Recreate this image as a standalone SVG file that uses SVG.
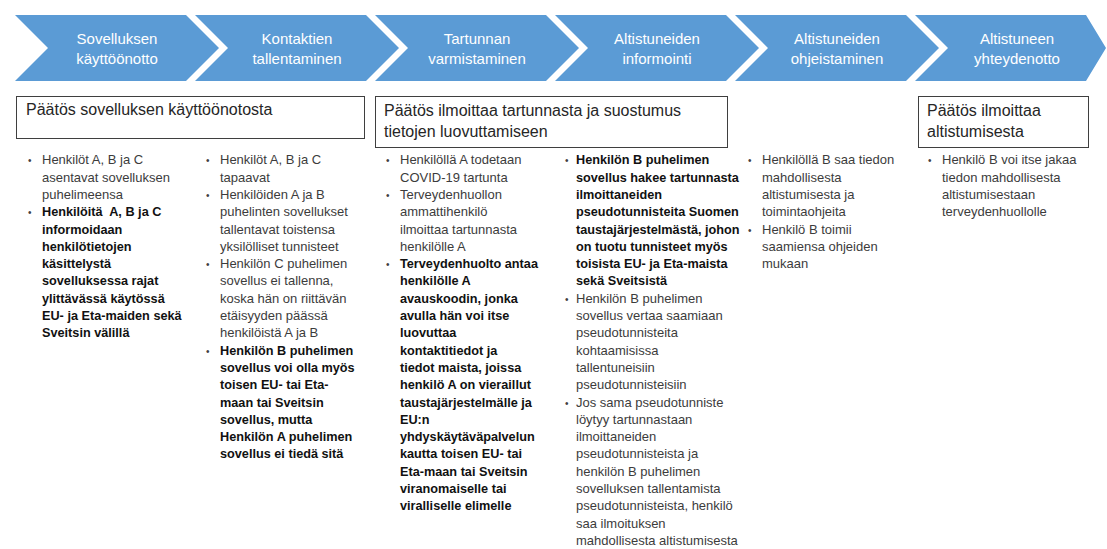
<svg xmlns="http://www.w3.org/2000/svg" width="1107" height="549" viewBox="0 0 1107 549">
<style>
.chev{fill:#5b9bd5}
.ct{font-family:"Liberation Sans",Arial,sans-serif;font-size:15px;fill:#ffffff;text-anchor:middle}
.box{fill:#ffffff;stroke:#3f3f3f;stroke-width:1}
.bt{font-family:"Liberation Sans",Arial,sans-serif;font-size:16px;fill:#262626}
.tx{font-family:"Liberation Sans",Arial,sans-serif;font-size:13px;fill:#3c3c3c}
.b{font-weight:bold;font-size:12.7px;fill:#111111}
.bul{font-family:"Liberation Sans",Arial,sans-serif;font-size:10px;fill:#404040}
</style>
<rect width="1107" height="549" fill="#ffffff"/>
<g id="chevron1"><path class="chev" d="M15,15 L186,15 L219,48 L186,81 L15,81 L48,48 Z"/><text class="ct" x="117" y="44">Sovelluksen</text><text class="ct" x="117" y="64">käyttöönotto</text></g>
<g id="chevron2"><path class="chev" d="M195,15 L366,15 L399,48 L366,81 L195,81 L228,48 Z"/><text class="ct" x="297" y="44">Kontaktien</text><text class="ct" x="297" y="64">tallentaminen</text></g>
<g id="chevron3"><path class="chev" d="M375,15 L546,15 L579,48 L546,81 L375,81 L408,48 Z"/><text class="ct" x="477" y="44">Tartunnan</text><text class="ct" x="477" y="64">varmistaminen</text></g>
<g id="chevron4"><path class="chev" d="M555,15 L726,15 L759,48 L726,81 L555,81 L588,48 Z"/><text class="ct" x="657" y="44">Altistuneiden</text><text class="ct" x="657" y="64">informointi</text></g>
<g id="chevron5"><path class="chev" d="M735,15 L906,15 L939,48 L906,81 L735,81 L768,48 Z"/><text class="ct" x="837" y="44">Altistuneiden</text><text class="ct" x="837" y="64">ohjeistaminen</text></g>
<g id="chevron6"><path class="chev" d="M915,15 L1086,15 L1106,48 L1086,81 L915,81 L948,48 Z"/><text class="ct" x="1017" y="44">Altistuneen</text><text class="ct" x="1017" y="64">yhteydenotto</text></g>

<g id="box1"><rect class="box" x="16.5" y="96.5" width="348" height="42"/><text class="bt" x="26" y="115">Päätös sovelluksen käyttöönotosta</text></g>
<g id="box2"><rect class="box" x="375.5" y="96.5" width="352" height="51"/><text class="bt" x="384" y="116">Päätös ilmoittaa tartunnasta ja suostumus</text><text class="bt" x="384" y="137">tietojen luovuttamiseen</text></g>
<g id="box3"><rect class="box" x="918.5" y="96.5" width="170" height="51"/><text class="bt" x="927" y="116">Päätös ilmoittaa</text><text class="bt" x="927" y="137">altistumisesta</text></g>

<g id="col1">
<text class="bul" x="28" y="164">•</text>
<text class="bul" x="28" y="216">•</text>
<text class="tx"><tspan x="42" y="164.3">Henkilöt A, B ja C</tspan><tspan x="42" y="181.6">asentavat sovelluksen</tspan><tspan x="42" y="198.9">puhelimeensa</tspan></text>
<text class="tx b" xml:space="preserve"><tspan x="42" y="216.2">Henkilöitä  A, B ja C</tspan><tspan x="42" y="233.5">informoidaan</tspan><tspan x="42" y="250.8">henkilötietojen</tspan><tspan x="42" y="268.1">käsittelystä</tspan><tspan x="42" y="285.4">sovelluksessa rajat</tspan><tspan x="42" y="302.7">ylittävässä käytössä</tspan><tspan x="42" y="320">EU- ja Eta-maiden sekä</tspan><tspan x="42" y="337.3">Sveitsin välillä</tspan></text>
</g>

<g id="col2">
<text class="bul" x="206" y="164">•</text>
<text class="bul" x="206" y="198.9">•</text>
<text class="bul" x="206" y="268.1">•</text>
<text class="bul" x="206" y="354.6">•</text>
<text class="tx"><tspan x="220" y="164.3">Henkilöt A, B ja C</tspan><tspan x="220" y="181.6">tapaavat</tspan><tspan x="220" y="198.9">Henkilöiden A ja B</tspan><tspan x="220" y="216.2">puhelinten sovellukset</tspan><tspan x="220" y="233.5">tallentavat toistensa</tspan><tspan x="220" y="250.8">yksilölliset tunnisteet</tspan><tspan x="220" y="268.1">Henkilön C puhelimen</tspan><tspan x="220" y="285.4">sovellus ei tallenna,</tspan><tspan x="220" y="302.7">koska hän on riittävän</tspan><tspan x="220" y="320">etäisyyden päässä</tspan><tspan x="220" y="337.3">henkilöistä A ja B</tspan></text>
<text class="tx b"><tspan x="220" y="354.6">Henkilön B puhelimen</tspan><tspan x="220" y="371.9">sovellus voi olla myös</tspan><tspan x="220" y="389.2">toisen EU- tai Eta-</tspan><tspan x="220" y="406.5">maan tai Sveitsin</tspan><tspan x="220" y="423.8">sovellus, mutta</tspan><tspan x="220" y="441.1">Henkilön A puhelimen</tspan><tspan x="220" y="458.4">sovellus ei tiedä sitä</tspan></text>
</g>

<g id="col3">
<text class="bul" x="386" y="164">•</text>
<text class="bul" x="386" y="198.9">•</text>
<text class="bul" x="386" y="268.1">•</text>
<text class="tx"><tspan x="400" y="164.3">Henkilöllä A todetaan</tspan><tspan x="400" y="181.6">COVID-19 tartunta</tspan><tspan x="400" y="198.9">Terveydenhuollon</tspan><tspan x="400" y="216.2">ammattihenkilö</tspan><tspan x="400" y="233.5">ilmoittaa tartunnasta</tspan><tspan x="400" y="250.8">henkilölle A</tspan></text>
<text class="tx b"><tspan x="400" y="268.1">Terveydenhuolto antaa</tspan><tspan x="400" y="285.4">henkilölle A</tspan><tspan x="400" y="302.7">avauskoodin, jonka</tspan><tspan x="400" y="320">avulla hän voi itse</tspan><tspan x="400" y="337.3">luovuttaa</tspan><tspan x="400" y="354.6">kontaktitiedot ja</tspan><tspan x="400" y="371.9">tiedot maista, joissa</tspan><tspan x="400" y="389.2">henkilö A on vieraillut</tspan><tspan x="400" y="406.5">taustajärjestelmälle ja</tspan><tspan x="400" y="423.8">EU:n</tspan><tspan x="400" y="441.1">yhdyskäytäväpalvelun</tspan><tspan x="400" y="458.4">kautta toisen EU- tai</tspan><tspan x="400" y="475.7">Eta-maan tai Sveitsin</tspan><tspan x="400" y="493">viranomaiselle tai</tspan><tspan x="400" y="510.3">viralliselle elimelle</tspan></text>
</g>

<g id="col4">
<text class="bul" x="565" y="164">•</text>
<text class="bul" x="565" y="302.7">•</text>
<text class="bul" x="565" y="406.5">•</text>
<text class="tx b"><tspan x="576" y="164.3">Henkilön B puhelimen</tspan><tspan x="576" y="181.6">sovellus hakee tartunnasta</tspan><tspan x="576" y="198.9">ilmoittaneiden</tspan><tspan x="576" y="216.2">pseudotunnisteita Suomen</tspan><tspan x="576" y="233.5">taustajärjestelmästä, johon</tspan><tspan x="576" y="250.8">on tuotu tunnisteet myös</tspan><tspan x="576" y="268.1">toisista EU- ja Eta-maista</tspan><tspan x="576" y="285.4">sekä Sveitsistä</tspan></text>
<text class="tx"><tspan x="576" y="302.7">Henkilön B puhelimen</tspan><tspan x="576" y="320">sovellus vertaa saamiaan</tspan><tspan x="576" y="337.3">pseudotunnisteita</tspan><tspan x="576" y="354.6">kohtaamisissa</tspan><tspan x="576" y="371.9">tallentuneisiin</tspan><tspan x="576" y="389.2">pseudotunnisteisiin</tspan><tspan x="576" y="406.5">Jos sama pseudotunniste</tspan><tspan x="576" y="423.8">löytyy tartunnastaan</tspan><tspan x="576" y="441.1">ilmoittaneiden</tspan><tspan x="576" y="458.4">pseudotunnisteista ja</tspan><tspan x="576" y="475.7">henkilön B puhelimen</tspan><tspan x="576" y="493">sovelluksen tallentamista</tspan><tspan x="576" y="510.3">pseudotunnisteista, henkilö</tspan><tspan x="576" y="527.6">saa ilmoituksen</tspan><tspan x="576" y="544.9">mahdollisesta altistumisesta</tspan></text>
</g>

<g id="col5">
<text class="bul" x="748" y="164">•</text>
<text class="bul" x="748" y="233.5">•</text>
<text class="tx"><tspan x="762" y="164.3">Henkilöllä B saa tiedon</tspan><tspan x="762" y="181.6">mahdollisesta</tspan><tspan x="762" y="198.9">altistumisesta ja</tspan><tspan x="762" y="216.2">toimintaohjeita</tspan><tspan x="762" y="233.5">Henkilö B toimii</tspan><tspan x="762" y="250.8">saamiensa ohjeiden</tspan><tspan x="762" y="268.1">mukaan</tspan></text>
</g>

<g id="col6">
<text class="bul" x="928" y="164">•</text>
<text class="tx"><tspan x="942" y="164.3">Henkilö B voi itse jakaa</tspan><tspan x="942" y="181.6">tiedon mahdollisesta</tspan><tspan x="942" y="198.9">altistumisestaan</tspan><tspan x="942" y="216.2">terveydenhuollolle</tspan></text>
</g>
</svg>
